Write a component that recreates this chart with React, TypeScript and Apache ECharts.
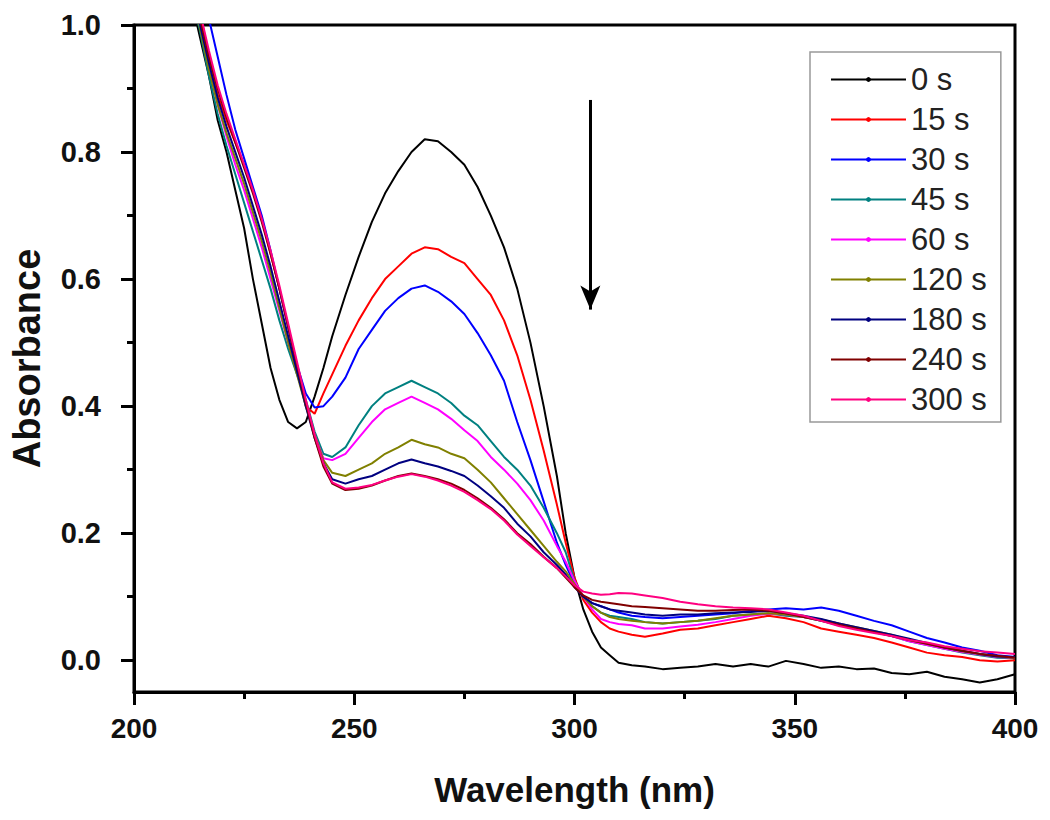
import React, { useEffect, useRef } from "react";
import * as echarts from "echarts";

const FONT = "Arial, 'Liberation Sans', sans-serif";

const wavelengths = [
  213, 215, 217, 219, 221, 223, 225, 227, 229, 231, 233, 235, 237, 239, 241, 243, 245, 248, 251, 254,
  257, 260, 263, 266, 269, 272, 275, 278, 281, 284, 287, 290, 293, 296, 298, 300, 302, 304, 306, 308,
  310, 313, 316, 320, 324, 328, 332, 336, 340, 344, 348, 352, 356, 360, 364, 368, 372, 376, 380, 384,
  388, 392, 396, 400,
];

const abs0s = [
  1.04, 0.98, 0.92, 0.85, 0.8, 0.74, 0.68, 0.6, 0.53, 0.46, 0.41, 0.375, 0.365, 0.375, 0.415, 0.46, 0.51, 0.575, 0.635, 0.69,
  0.735, 0.77, 0.8, 0.82, 0.817, 0.8, 0.78, 0.745, 0.7, 0.65, 0.585, 0.5, 0.4, 0.29, 0.2, 0.13, 0.08, 0.045, 0.02, 0.008,
  -0.004, -0.008, -0.01, -0.014, -0.012, -0.01, -0.006, -0.01, -0.006, -0.01, -0.001, -0.006, -0.012, -0.01, -0.014, -0.013, -0.02, -0.022, -0.018, -0.026,
  -0.03, -0.035, -0.03, -0.022,
];
const abs15s = [
  1.08, 1.02, 0.95, 0.89, 0.85, 0.815, 0.78, 0.74, 0.695, 0.64, 0.585, 0.525, 0.46, 0.4, 0.388, 0.42, 0.45, 0.495, 0.535, 0.57,
  0.6, 0.62, 0.64, 0.65, 0.647, 0.635, 0.625, 0.6, 0.575, 0.535, 0.48, 0.41, 0.33, 0.245, 0.185, 0.13, 0.095, 0.075, 0.06, 0.05,
  0.045, 0.04, 0.037, 0.042, 0.048, 0.05, 0.055, 0.06, 0.065, 0.07, 0.066, 0.06, 0.05, 0.045, 0.04, 0.035, 0.028, 0.02, 0.012, 0.008,
  0.005, 0.0, -0.002, 0.0,
];
const abs30s = [
  1.15, 1.08, 1.01, 0.95, 0.89, 0.835, 0.79, 0.745, 0.7, 0.645, 0.585, 0.525, 0.465, 0.42, 0.398, 0.4, 0.415, 0.445, 0.49, 0.52,
  0.55, 0.57, 0.585, 0.59, 0.58, 0.565, 0.545, 0.515, 0.48, 0.44, 0.375, 0.315, 0.25, 0.185, 0.15, 0.12, 0.1, 0.09, 0.085, 0.08,
  0.075, 0.07, 0.068, 0.066, 0.068, 0.07, 0.072, 0.074, 0.078, 0.08, 0.082, 0.08, 0.083, 0.078, 0.07, 0.062, 0.055, 0.045, 0.035, 0.028,
  0.02, 0.015, 0.008, 0.005,
];
const abs45s = [
  1.05, 0.99, 0.92, 0.86, 0.81, 0.765, 0.72, 0.675, 0.63, 0.585, 0.535, 0.49, 0.45, 0.41, 0.36, 0.325, 0.32, 0.335, 0.37, 0.4,
  0.42, 0.43, 0.44, 0.43, 0.42, 0.405, 0.385, 0.37, 0.345, 0.32, 0.3, 0.275, 0.24, 0.2, 0.17, 0.125, 0.1, 0.085, 0.075, 0.07,
  0.068, 0.065, 0.06, 0.058, 0.06, 0.062, 0.065, 0.07, 0.072, 0.074, 0.07, 0.068, 0.062, 0.055, 0.05, 0.045, 0.038, 0.03, 0.024, 0.018,
  0.012, 0.008, 0.004, 0.003,
];
const abs60s = [
  1.07, 1.0, 0.935, 0.875, 0.825, 0.78, 0.74, 0.695, 0.65, 0.6, 0.55, 0.5, 0.455, 0.405, 0.355, 0.318, 0.315, 0.325, 0.35, 0.375,
  0.395, 0.405, 0.415, 0.405, 0.395, 0.38, 0.362, 0.345, 0.32, 0.3, 0.278, 0.252, 0.22, 0.18, 0.155, 0.125, 0.1, 0.08, 0.065, 0.06,
  0.057, 0.055, 0.05, 0.05, 0.053, 0.056, 0.06, 0.065, 0.07, 0.073, 0.072, 0.068, 0.063, 0.058, 0.05, 0.045, 0.038, 0.03, 0.024, 0.018,
  0.013, 0.009, 0.005, 0.004,
];
const abs120s = [
  1.06, 0.995, 0.93, 0.875, 0.83, 0.79, 0.75, 0.705, 0.66, 0.61, 0.555, 0.5, 0.45, 0.4, 0.355, 0.315, 0.295, 0.29, 0.3, 0.31,
  0.325, 0.335, 0.347, 0.34, 0.335, 0.325, 0.318, 0.3, 0.28, 0.255, 0.23, 0.205, 0.18, 0.155, 0.14, 0.12, 0.1, 0.085, 0.075, 0.068,
  0.065, 0.062, 0.06, 0.058, 0.06, 0.062, 0.066, 0.07, 0.072, 0.074, 0.072, 0.068, 0.064, 0.058, 0.052, 0.046, 0.04, 0.032, 0.026, 0.02,
  0.014, 0.01, 0.006, 0.004,
];
const abs180s = [
  1.07, 1.0, 0.94, 0.885, 0.84, 0.8, 0.76, 0.715, 0.67, 0.62, 0.565, 0.51, 0.455, 0.4, 0.35, 0.31, 0.285, 0.278, 0.285, 0.29,
  0.3, 0.31, 0.316, 0.31, 0.305, 0.298, 0.29, 0.275, 0.258, 0.24, 0.215, 0.195, 0.17, 0.15, 0.135, 0.115, 0.1, 0.09, 0.085, 0.08,
  0.078, 0.075, 0.072, 0.07, 0.072, 0.072, 0.074, 0.075, 0.076, 0.078, 0.074, 0.07, 0.065, 0.058, 0.052, 0.046, 0.04, 0.034, 0.027, 0.02,
  0.015, 0.01, 0.006, 0.005,
];
const abs240s = [
  1.08, 1.01, 0.95, 0.9, 0.855, 0.815, 0.775, 0.735, 0.69, 0.64, 0.585, 0.525, 0.465, 0.405, 0.35, 0.305, 0.278, 0.268, 0.27, 0.275,
  0.283, 0.29, 0.294, 0.29, 0.285, 0.278, 0.268, 0.255, 0.24, 0.222, 0.2, 0.183, 0.163, 0.145, 0.13, 0.115, 0.102, 0.095, 0.092, 0.09,
  0.088, 0.085, 0.084, 0.082, 0.08, 0.078, 0.078, 0.079, 0.08, 0.078, 0.074, 0.068, 0.062, 0.056, 0.05, 0.044, 0.038, 0.032, 0.026, 0.02,
  0.015, 0.01, 0.007, 0.004,
];
const abs300s = [
  1.09, 1.02, 0.96, 0.905, 0.86, 0.82, 0.78, 0.74, 0.695, 0.645, 0.59, 0.53, 0.47, 0.41, 0.355, 0.31, 0.28, 0.27, 0.272, 0.276,
  0.283, 0.289, 0.293, 0.289, 0.283, 0.275, 0.265, 0.252, 0.238, 0.22, 0.198, 0.18, 0.162, 0.145, 0.132, 0.118, 0.108, 0.105, 0.103, 0.104,
  0.106, 0.105, 0.102, 0.098, 0.092, 0.088, 0.085, 0.083, 0.082, 0.08, 0.075, 0.07, 0.062, 0.054, 0.048, 0.043, 0.038, 0.032, 0.028, 0.022,
  0.018, 0.014, 0.012, 0.01,
];

const seriesNames = ["0 s", "15 s", "30 s", "45 s", "60 s", "120 s", "180 s", "240 s", "300 s"];
const seriesColors = ["#000000", "#ff0000", "#0000ff", "#008080", "#ff00ff", "#808000", "#000080", "#800000", "#ff0080"];
const seriesValues = [abs0s, abs15s, abs30s, abs45s, abs60s, abs120s, abs180s, abs240s, abs300s];

const xTicks = { min: 200, max: 400, step: 50 };
const yMajorTicks = [0, 0.2, 0.4, 0.6, 0.8, 1.0];
const yMinorTicks = [0.1, 0.3, 0.5, 0.7, 0.9];
const yRange = { min: -0.05, max: 1.0 };
// arrow annotation (wavelength, absorbance from -> to)
const arrowWavelength = 303.6;
const arrowFrom = 0.882;
const arrowTo = 0.552;

export default function App() {
  const ref = useRef<HTMLDivElement>(null);
  useEffect(() => {
    document.body.style.margin = "0";
    const chart = echarts.init(ref.current!, null, { renderer: "svg" });
    const series: any[] = seriesNames.map((name, k) => ({
      name,
      type: "line",
      data: wavelengths.map((w, i) => [w, seriesValues[k][i]]),
      symbol: "circle",
      symbolSize: 4,
      showSymbol: false,
      lineStyle: { width: 2, color: seriesColors[k] },
      itemStyle: { color: seriesColors[k] },
      color: seriesColors[k],
      clip: true,
      z: 2 + k,
      emphasis: { disabled: true },
    }));
    series[0].markLine = {
      silent: true,
      symbol: ["none", "arrow"],
      symbolSize: [15, 24],
      label: { show: false },
      lineStyle: { color: "#000", width: 3, type: "solid" },
      emphasis: { disabled: true },
      data: [[{ coord: [arrowWavelength, arrowFrom] }, { coord: [arrowWavelength, arrowTo] }]],
    };
    const axisLineStyle = { color: "#000", width: 3 };
    chart.setOption({
      animation: false,
      backgroundColor: "#fff",
      grid: {
        left: 133,
        right: 35,
        top: 25,
        bottom: 128,
        show: true,
        borderColor: "#000",
        borderWidth: 3,
        backgroundColor: "transparent",
      },
      legend: {
        data: seriesNames,
        orient: "vertical",
        left: 810,
        top: 52,
        itemWidth: 75,
        itemHeight: 6,
        itemGap: 9,
        padding: [12, 14, 7, 20],
        borderColor: "#999",
        borderWidth: 1.5,
        backgroundColor: "#fff",
        selectedMode: false,
        textStyle: { fontSize: 31, lineHeight: 30, color: "#222", fontFamily: FONT },
      },
      xAxis: {
        type: "value",
        min: xTicks.min,
        max: xTicks.max,
        interval: xTicks.step,
        axisLine: { show: true, onZero: false, lineStyle: axisLineStyle },
        axisTick: { show: true, inside: false, length: 13, lineStyle: axisLineStyle },
        minorTick: { show: true, splitNumber: 2, length: 7, lineStyle: axisLineStyle },
        splitLine: { show: false },
        minorSplitLine: { show: false },
        axisLabel: { fontSize: 28, fontWeight: "bold", color: "#111", margin: 22, fontFamily: FONT },
        name: "Wavelength (nm)",
        nameLocation: "middle",
        nameGap: 80,
        nameTextStyle: { fontSize: 35, fontWeight: "bold", color: "#111", fontFamily: FONT },
      },
      yAxis: [
        {
          type: "value",
          min: yRange.min,
          max: yRange.max,
          position: "left",
          axisLine: { show: true, onZero: false, lineStyle: axisLineStyle },
          axisTick: { show: true, inside: false, length: 13, lineStyle: axisLineStyle, customValues: yMajorTicks },
          axisLabel: {
            customValues: yMajorTicks,
            formatter: (v: number) => v.toFixed(1),
            fontSize: 29,
            fontWeight: "bold",
            color: "#111",
            margin: 33,
            fontFamily: FONT,
          },
          splitLine: { show: false },
          name: "Absorbance",
          nameLocation: "middle",
          nameGap: 88,
          nameTextStyle: { fontSize: 38, fontWeight: "bold", color: "#111", fontFamily: FONT },
        },
        {
          type: "value",
          min: yRange.min,
          max: yRange.max,
          position: "left",
          axisLine: { show: true, onZero: false, lineStyle: { color: "rgba(0,0,0,0)", width: 0 } },
          axisTick: { show: true, inside: false, length: 7, lineStyle: axisLineStyle, customValues: yMinorTicks },
          axisLabel: { show: true, customValues: yMinorTicks, formatter: () => "", color: "rgba(0,0,0,0)" },
          splitLine: { show: false },
        },
      ],
      series,
    });
    return () => chart.dispose();
  }, []);
  return <div ref={ref} style={{ width: 1050, height: 820 }} />;
}
